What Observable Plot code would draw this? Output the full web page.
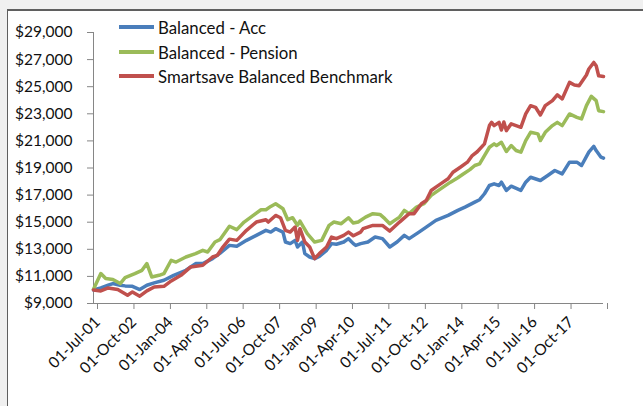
<!DOCTYPE html>
<html>
<head>
<meta charset="utf-8">
<script src="https://cdn.jsdelivr.net/npm/d3@7"></script>
<script src="https://cdn.jsdelivr.net/npm/@observablehq/plot@0.6"></script>
<style>
  html, body { margin: 0; padding: 0; width: 643px; height: 406px; overflow: hidden; background: #f0f0f0; font-family: Lato, sans-serif; }
  #frame { position: absolute; left: 7px; top: 9px; width: 700px; height: 500px; background: #fff; border-left: 1.5px solid #5f5f5f; border-top: 2px solid #5f5f5f; }
  #chart { position: absolute; left: 0; top: 0; }
  .leg { position: absolute; left: 119px; height: 20px; display: flex; align-items: center; font-size: 16.8px; color: #111; white-space: nowrap; }
  .leg .sw { width: 35px; height: 4px; margin-right: 4px; }
</style>
</head>
<body>
<div id="frame"></div>
<div id="chart"></div>
<div id="legend"></div>
<script>
// ---- data ----
const seriesNames = ["Balanced - Acc", "Balanced - Pension", "Smartsave Balanced Benchmark"];
const seriesColors = ["#4A7EBB", "#9BBB59", "#C0504D"];

const accDates = ["2001-07","2001-10","2002-01","2002-03","2002-06","2002-08","2002-11","2003-02","2003-05","2003-08","2003-12","2004-04","2004-09","2005-01","2005-04","2005-08","2005-11","2006-03","2006-06","2006-10","2007-02","2007-06","2007-08","2007-10","2008-01","2008-02","2008-04","2008-06","2008-07","2008-09","2008-10","2008-12","2009-02","2009-04","2009-07","2009-09","2009-11","2010-02","2010-04","2010-06","2010-07","2010-09","2010-12","2011-03","2011-06","2011-09","2011-12","2012-03","2012-05","2012-09","2012-12","2013-04","2013-09","2014-01","2014-04","2014-08","2014-10","2014-12","2015-02","2015-04","2015-06","2015-07","2015-09","2015-11","2016-03","2016-05","2016-07","2016-11","2017-02","2017-05","2017-08","2017-11","2018-02","2018-04","2018-07","2018-09","2018-10","2018-12","2019-01"];
const accValues = [10000,10150,10350,10470,10350,10300,10270,10030,10350,10520,10715,11080,11450,11945,11945,12310,12700,13290,13220,13660,14030,14400,14270,14520,14270,13540,13420,13660,13170,13540,12680,12430,12310,12480,12925,13420,13370,13540,13785,13420,13290,13420,13535,13905,13785,13170,13535,14030,13785,14270,14640,15135,15500,15870,16115,16480,16660,17100,17710,17835,17710,17955,17345,17660,17345,17955,18320,18080,18450,18815,18570,19430,19430,19185,20165,20605,20290,19800,19725];

const pensionDates = ["2001-07","2001-10","2001-12","2002-03","2002-06","2002-08","2002-12","2003-03","2003-05","2003-07","2003-10","2003-12","2004-03","2004-05","2004-09","2005-01","2005-04","2005-06","2005-09","2005-11","2006-03","2006-06","2006-09","2007-02","2007-04","2007-06","2007-08","2007-10","2008-01","2008-03","2008-05","2008-07","2008-08","2008-11","2009-02","2009-05","2009-08","2009-10","2010-01","2010-04","2010-06","2010-08","2010-11","2011-02","2011-05","2011-07","2011-09","2011-11","2012-01","2012-03","2012-05","2012-08","2012-11","2013-02","2013-04","2013-07","2013-10","2014-01","2014-03","2014-06","2014-08","2014-10","2014-12","2015-02","2015-04","2015-05","2015-07","2015-09","2015-11","2016-01","2016-03","2016-05","2016-07","2016-10","2016-11","2017-01","2017-04","2017-06","2017-08","2017-11","2018-02","2018-04","2018-06","2018-08","2018-10","2018-11","2019-01"];
const pensionValues = [10050,11210,10840,10770,10470,10910,11210,11450,11945,10960,11080,11210,12190,12060,12430,12680,12925,12800,13540,13710,14700,14450,15010,15670,15920,15920,16165,16360,15995,15185,15330,14765,15080,14150,13535,13660,14765,15010,14890,15330,14935,15010,15375,15630,15575,15260,14890,15135,15375,15870,15630,16115,16360,16975,17220,17590,17955,18280,18520,18880,19185,19310,19920,20530,20780,20655,20900,20215,20655,20290,20165,21025,21635,21520,21025,21635,22130,22370,22130,22990,22740,22620,23600,24290,23970,23230,23160];

const benchDates = ["2001-07","2001-10","2002-01","2002-05","2002-09","2002-11","2003-02","2003-05","2003-08","2003-12","2004-03","2004-07","2004-11","2005-04","2005-08","2005-10","2005-12","2006-03","2006-06","2006-10","2007-02","2007-06","2007-07","2007-10","2007-12","2008-02","2008-04","2008-06","2008-07","2008-08","2008-10","2008-12","2009-02","2009-04","2009-07","2009-09","2009-11","2010-02","2010-04","2010-06","2010-09","2010-10","2011-02","2011-06","2011-09","2012-01","2012-05","2012-07","2012-10","2012-12","2013-02","2013-04","2013-07","2013-09","2013-11","2014-02","2014-05","2014-07","2014-09","2014-12","2015-02","2015-03","2015-04","2015-06","2015-07","2015-08","2015-09","2015-11","2016-01","2016-03","2016-05","2016-07","2016-09","2016-11","2017-01","2017-04","2017-06","2017-08","2017-11","2018-01","2018-03","2018-06","2018-07","2018-09","2018-10","2018-11","2019-01"];
const benchValues = [10000,9930,10150,10030,9610,9855,9540,9930,10220,10270,10665,11080,11700,11820,12430,12555,13100,13750,13660,14400,15010,15185,15010,15500,15330,14400,14270,14640,13660,14520,13540,13170,12310,12680,13170,13905,13785,14030,14270,14000,14270,14520,14765,14765,14345,15010,15630,15630,16360,16605,17340,17590,17955,18205,18690,19060,19430,19920,20200,20780,22130,22370,22130,22370,21800,22400,21760,22255,22130,22005,22990,23600,23480,22915,23600,23970,24390,24095,25320,25125,25075,25865,26305,26790,26550,25810,25760];

const yTicks = [9000, 11000, 13000, 15000, 17000, 19000, 21000, 23000, 25000, 27000, 29000];
const xTickDates = ["2001-07","2002-10","2004-01","2005-04","2006-07","2007-10","2009-01","2010-04","2011-07","2012-10","2014-01","2015-04","2016-07","2017-10","2019-01"];
const xTickLabels = ["01-Jul-01","01-Oct-02","01-Jan-04","01-Apr-05","01-Jul-06","01-Oct-07","01-Jan-09","01-Apr-10","01-Jul-11","01-Oct-12","01-Jan-14","01-Apr-15","01-Jul-16","01-Oct-17",""];

// ---- build ----
const parse = d3.utcParse("%Y-%m");
const rows = [];
[[accDates, accValues], [pensionDates, pensionValues], [benchDates, benchValues]].forEach(([ds, vs], i) => {
  ds.forEach((d, j) => rows.push({series: seriesNames[i], date: parse(d), value: vs[j]}));
});
const xTicks = xTickDates.map(parse);
const labelOf = new Map(xTicks.map((d, i) => [+d, xTickLabels[i]]));
const xDomain = [xTicks[0], xTicks[xTicks.length - 1]];
const yDomain = [yTicks[0], yTicks[yTicks.length - 1]];

const chart = Plot.plot({
  width: 643,
  height: 406,
  marginLeft: 93,
  marginTop: 32,
  marginRight: 40,
  marginBottom: 103,
  style: {background: "transparent", fontFamily: "Lato, sans-serif", fontSize: "15.5px", color: "#111", overflow: "visible"},
  x: {type: "utc", domain: xDomain},
  y: {domain: yDomain},
  color: {domain: seriesNames, range: seriesColors},
  marks: [
    Plot.ruleX([xDomain[0]], {stroke: "#868686", strokeWidth: 1}),
    Plot.ruleY([yDomain[0]], {stroke: "#868686", strokeWidth: 1}),
    Plot.axisY({ticks: yTicks, tickSize: 6, tickPadding: 15, stroke: "#868686", fill: "#111", label: null,
      tickFormat: d => "$" + d3.format(",")(d)}),
    Plot.axisX({ticks: xTicks, tickSize: 6, tickPadding: 10, dx: 4, tickRotate: -45, stroke: "#868686", fill: "#111", label: null,
      tickFormat: d => labelOf.get(+d)}),
    Plot.line(rows, {x: "date", y: "value", z: "series", stroke: "series", strokeWidth: 3.5, strokeLinejoin: "round", strokeLinecap: "round"})
  ]
});
document.getElementById("chart").appendChild(chart);

// legend
const legend = document.getElementById("legend");
const legendTops = [17, 42, 66];
seriesNames.forEach((name, i) => {
  const el = document.createElement("div");
  el.className = "leg";
  el.style.top = legendTops[i] + "px";
  el.innerHTML = `<span class="sw" style="background:${seriesColors[i]}"></span><span>${name}</span>`;
  legend.appendChild(el);
});
</script>
</body>
</html>
